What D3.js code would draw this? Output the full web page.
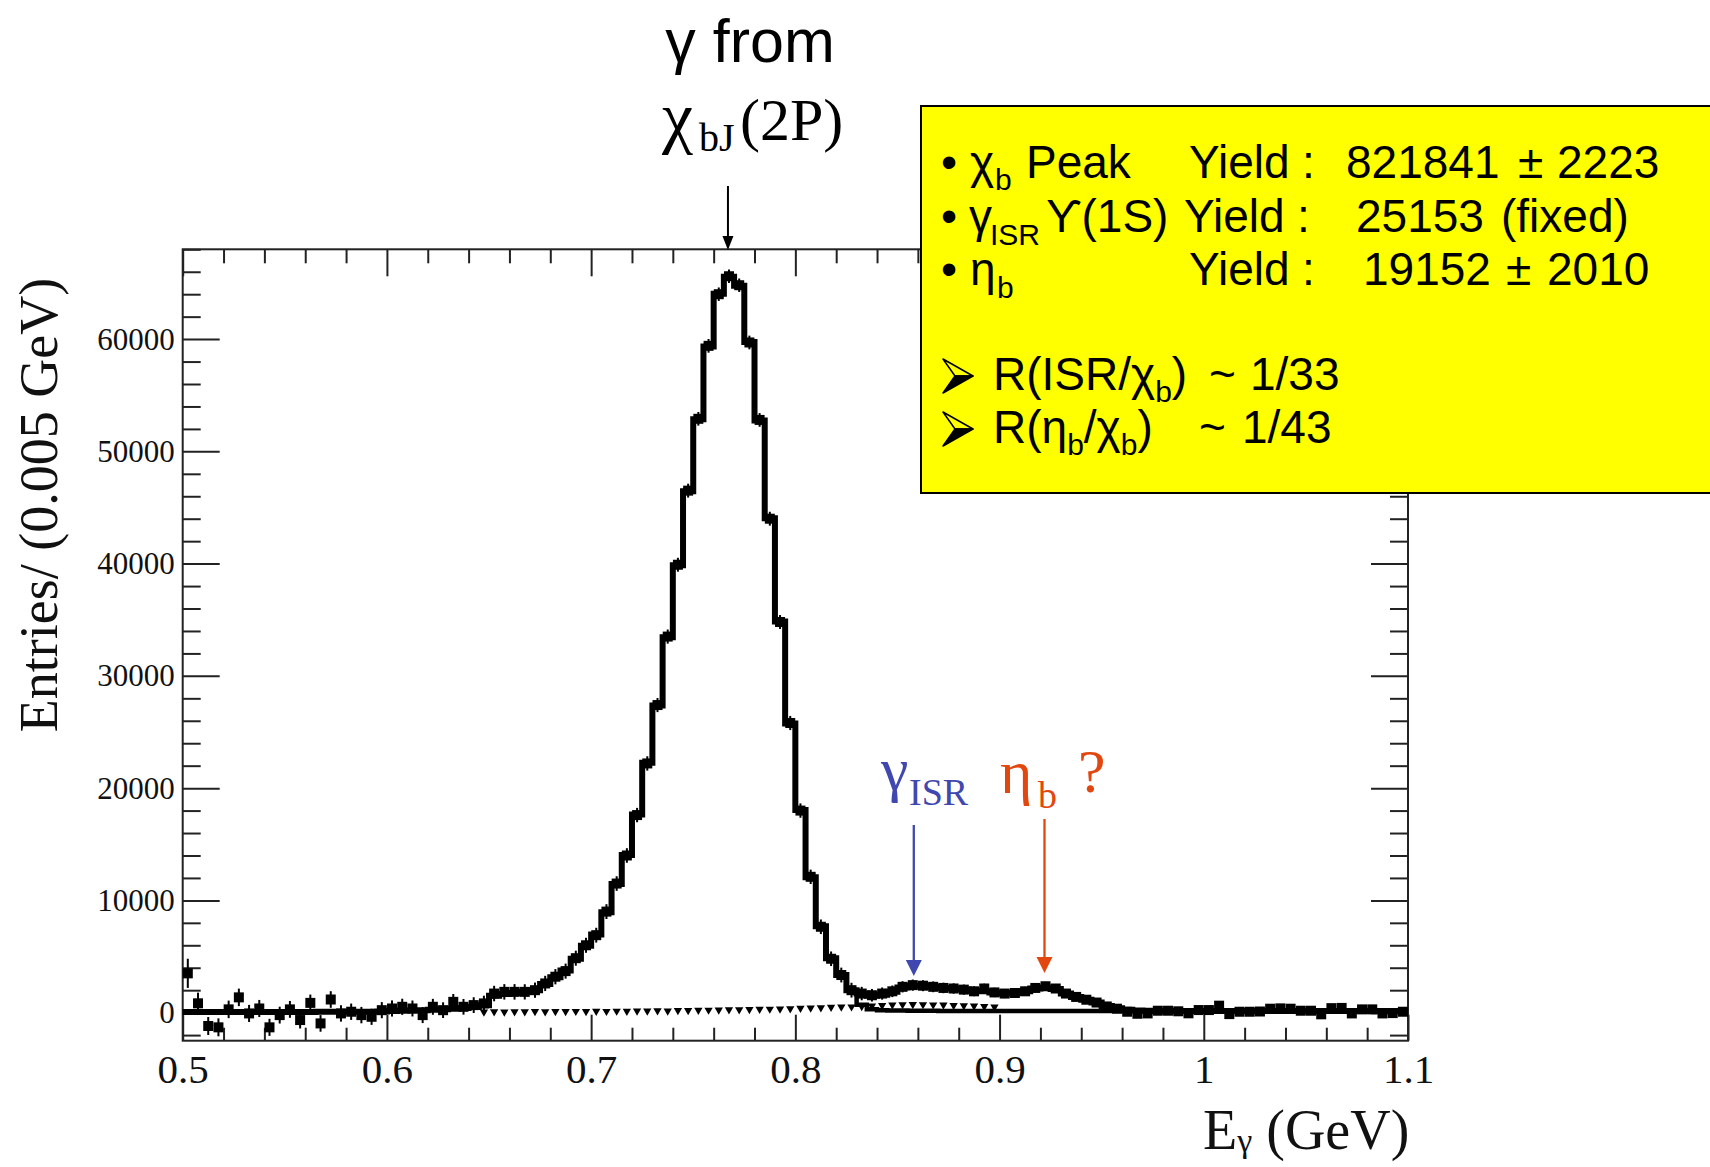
<!DOCTYPE html>
<html>
<head>
<meta charset="utf-8">
<script src="https://cdn.jsdelivr.net/npm/d3@7"></script>
<style>
  html, body { margin: 0; padding: 0; background: #ffffff; }
  svg { display: block; }
</style>
</head>
<body>
<svg id="chart" width="1710" height="1167"></svg>
<script>
// ---------------- data ----------------
// photon-energy histogram: 120 bins of 0.005 GeV starting at 0.5 GeV
const binStart = 0.5;
const binWidth = 0.005;

// measured entries per bin
const dataCounts = [
  3500, 830, -1190, -1310, 290, 1360, -70, 370, -1310, -220,
  290, -660, 870, -960, 1170, -70, 80, -220, -370, 220,
  370, 520, 370, -220, 520, 220, 960, 520, 670, 820,
  1700, 1850, 1850, 1850, 2000, 2600, 3200, 3700, 4850, 6000,
  6900, 9000, 11500, 14000, 17600, 22200, 27400, 33500, 39900, 46500,
  52900, 59400, 64000, 65600, 64800, 59700, 52800, 44000, 34800, 25800,
  18000, 12100, 7650, 4800, 3350, 2000, 1700, 1550, 1700, 1900,
  2300, 2450, 2400, 2300, 2200, 2150, 2050, 1900, 2150, 1800,
  1700, 1750, 1900, 2200, 2350, 2150, 1700, 1400, 1150, 900,
  550, 350, 80, -100, -70, 170, 170, 120, -60, 230,
  230, 620, -130, 80, 80, 100, 350, 380, 350, 170,
  170, -150, 400, 420, -70, 290, 290, -70, -40, 80
];

// statistical error per bin
const dataErrors = [
  1300, 950, 800, 800, 780, 780, 760, 760, 760, 750,
  750, 750, 740, 740, 740, 730, 730, 730, 720, 720,
  720, 720, 710, 710, 710, 700, 700, 700, 700, 690,
  690, 690, 690, 680, 680, 680, 680, 670, 670, 670,
  660, 660, 650, 650, 640, 640, 630, 630, 620, 620,
  610, 610, 600, 600, 600, 610, 610, 620, 620, 630,
  640, 640, 650, 650, 660, 660, 600, 560, 540, 520,
  500, 500, 490, 480, 470, 460, 450, 440, 430, 420,
  410, 400, 400, 400, 400, 390, 380, 370, 360, 350,
  340, 330, 330, 320, 320, 320, 320, 310, 310, 310,
  310, 300, 300, 300, 300, 300, 300, 300, 300, 300,
  300, 300, 300, 300, 300, 300, 300, 300, 300, 300
];

// total fit (chi_b + ISR + eta_b + background), binned
const fitTotal = [
  60, 60, 60, 60, 60, 60, 60, 60, 60, 60,
  60, 60, 60, 70, 70, 70, 80, 80, 90, 100,
  150, 170, 190, 220, 260, 300, 350, 420, 500, 650,
  1500, 1650, 1750, 1850, 2000, 2550, 3150, 3750, 4800, 5950,
  6950, 8950, 11450, 14050, 17650, 22250, 27350, 33450, 39850, 46450,
  52850, 59350, 64050, 65550, 64750, 59750, 52750, 44050, 34850, 25750,
  18050, 12050, 7700, 4850, 3350, 2000, 1700, 1500, 1600, 1850,
  2250, 2400, 2400, 2300, 2200, 2150, 2050, 1950, 1900, 1800,
  1700, 1750, 1900, 2150, 2250, 2100, 1700, 1400, 1150, 900,
  600, 400, 250, 180, 160, 150, 150, 150, 150, 150,
  150, 150, 150, 150, 150, 150, 150, 150, 150, 150,
  150, 150, 150, 150, 150, 150, 150, 150, 150, 150
];

// chi_b tail + background only, from 0.82 GeV
const fitLowerStart = 0.82;
const fitLower = [
  3350, 2000, 700, 300, 220, 200, 180, 170, 160, 160,
  150, 150, 150, 140, 140, 140, 140, 140, 140, 140,
  140, 140, 140, 140, 140, 140, 140, 140, 145, 150,
  150, 150
];

// background points (small triangles), from 0.645 GeV
const bgStart = 0.645;
const bgCounts = [
  60, 80, 70, 90, 80, 100, 90, 110, 100, 120,
  110, 130, 120, 140, 130, 150, 150, 170, 160, 190,
  200, 220, 230, 250, 260, 270, 290, 310, 320, 340,
  360, 400, 420, 450, 480, 500, 520, 550, 600, 650,
  700, 720, 730, 720, 700, 680, 650, 620, 600, 560,
  500
];

const xMajorTicks = [0.5, 0.6, 0.7, 0.8, 0.9, 1.0, 1.1];
const xTickLabels = ["0.5", "0.6", "0.7", "0.8", "0.9", "1", "1.1"];
const yMajorTicks = [0, 10000, 20000, 30000, 40000, 50000, 60000];

// photon energies marked by arrows
const peakArrowE = 0.767;
const isrArrowE = 0.858;
const etabArrowE = 0.922;

// ---------------- layout ----------------
const frame = { left: 182.7, right: 1408, top: 249.3, bottom: 1040.7 };
const serif = "'Liberation Serif', 'Times New Roman', 'DejaVu Serif', serif";
const sans = "'Liberation Sans', Arial, 'DejaVu Sans', sans-serif";
const ink = "#222";

const svg = d3.select("#chart");
svg.append("rect").attr("width", 1710).attr("height", 1167).attr("fill", "#fff");

const x = d3.scaleLinear().domain([0.5, 1.1]).range([frame.left, frame.right]);
const y = d3.scaleLinear().domain([-2500, 68000]).range([frame.bottom, frame.top]);

// ---------------- axes ----------------
const xMinor = d3.range(26, 55, 1).map(k => k * 0.02).filter(v => Math.round(v * 100) % 10 !== 0 && v > 0.5 && v < 1.1);
const yMinor = d3.range(-1, 35, 1).map(k => k * 2000).filter(v => v % 10000 !== 0);

function styleAxis(g) {
  g.select(".domain").remove();
  g.selectAll(".tick line").attr("stroke", ink).attr("stroke-width", 2);
}

// bottom
svg.append("g").attr("transform", `translate(0,${frame.bottom})`)
  .call(d3.axisBottom(x).tickValues(xMinor).tickFormat("").tickSize(-13).tickSizeOuter(0))
  .call(styleAxis);
svg.append("g").attr("transform", `translate(0,${frame.bottom})`)
  .call(d3.axisBottom(x).tickValues(xMajorTicks).tickFormat((d, i) => xTickLabels[i])
    .tickSize(-26).tickSizeOuter(0).tickPadding(13))
  .call(styleAxis)
  .call(g => g.selectAll("text").attr("font-family", serif).attr("font-size", 41).attr("fill", "#111"));

// top
svg.append("g").attr("transform", `translate(0,${frame.top})`)
  .call(d3.axisTop(x).tickValues(xMinor).tickFormat("").tickSize(-14).tickSizeOuter(0))
  .call(styleAxis);
svg.append("g").attr("transform", `translate(0,${frame.top})`)
  .call(d3.axisTop(x).tickValues(xMajorTicks).tickFormat("").tickSize(-27).tickSizeOuter(0))
  .call(styleAxis);

// left
svg.append("g").attr("transform", `translate(${frame.left},0)`)
  .call(d3.axisLeft(y).tickValues(yMinor).tickFormat("").tickSize(-18).tickSizeOuter(0))
  .call(styleAxis);
svg.append("g").attr("transform", `translate(${frame.left},0)`)
  .call(d3.axisLeft(y).tickValues(yMajorTicks).tickFormat(d3.format("d"))
    .tickSize(-37).tickSizeOuter(0).tickPadding(8))
  .call(styleAxis)
  .call(g => g.selectAll("text").attr("font-family", serif).attr("font-size", 31).attr("fill", "#111"));

// right
svg.append("g").attr("transform", `translate(${frame.right},0)`)
  .call(d3.axisRight(y).tickValues(yMinor).tickFormat("").tickSize(-18).tickSizeOuter(0))
  .call(styleAxis);
svg.append("g").attr("transform", `translate(${frame.right},0)`)
  .call(d3.axisRight(y).tickValues(yMajorTicks).tickFormat("").tickSize(-37).tickSizeOuter(0))
  .call(styleAxis);

// frame
svg.append("rect")
  .attr("x", frame.left).attr("y", frame.top)
  .attr("width", frame.right - frame.left).attr("height", frame.bottom - frame.top)
  .attr("fill", "none").attr("stroke", ink).attr("stroke-width", 2);

// axis titles
const xTitle = svg.append("text")
  .attr("x", 1203).attr("y", 1149)
  .attr("font-family", serif).attr("font-size", 56).attr("fill", "#111");
xTitle.append("tspan").text("E");
xTitle.append("tspan").attr("font-size", 34).attr("dy", 3).text("γ");
xTitle.append("tspan").attr("dy", -3).text(" (GeV)");

svg.append("text")
  .attr("transform", "translate(57,505) rotate(-90)")
  .attr("text-anchor", "middle")
  .attr("font-family", serif).attr("font-size", 54).attr("fill", "#111")
  .text("Entries/ (0.005 GeV)");

// ---------------- marks ----------------
const plot = svg.append("g");

// background triangles
const bgPts = bgCounts.map((v, i) => ({ e: bgStart + (i + 0.5) * binWidth, v }));
plot.append("g").selectAll("path").data(bgPts).join("path")
  .attr("d", d3.symbol(d3.symbolTriangle, 30))
  .attr("transform", d => `translate(${x(d.e)},${y(d.v)}) rotate(180)`)
  .attr("fill", "#000");

// stepped fit curves
const stepLine = d3.line().x(d => x(d[0])).y(d => y(d[1])).curve(d3.curveStepAfter);
function stepPoints(start, vals) {
  const pts = vals.map((v, i) => [start + i * binWidth, v]);
  pts.push([start + vals.length * binWidth, vals[vals.length - 1]]);
  return pts;
}
plot.append("path")
  .attr("d", stepLine(stepPoints(fitLowerStart, fitLower)))
  .attr("fill", "none").attr("stroke", "#000").attr("stroke-width", 4.5);

// data error bars and markers
const dataPts = dataCounts.map((v, i) => ({ e: binStart + (i + 0.5) * binWidth, v, err: dataErrors[i] }));
plot.append("g").selectAll("line").data(dataPts).join("line")
  .attr("x1", d => x(d.e)).attr("x2", d => x(d.e))
  .attr("y1", d => y(d.v - d.err)).attr("y2", d => y(d.v + d.err))
  .attr("stroke", "#000").attr("stroke-width", 2);
plot.append("g").selectAll("rect").data(dataPts).join("rect")
  .attr("x", d => x(d.e) - 5).attr("y", d => y(d.v) - 5)
  .attr("width", 10).attr("height", 10)
  .attr("fill", "#000");

plot.append("path")
  .attr("d", stepLine(stepPoints(binStart, fitTotal)))
  .attr("fill", "none").attr("stroke", "#000").attr("stroke-width", 6);

// ---------------- annotations ----------------
function arrow(e, yFrom, yTip, color, width, headW, headH) {
  const cx = x(e);
  svg.append("line")
    .attr("x1", cx).attr("x2", cx).attr("y1", yFrom).attr("y2", yTip - headH + 1)
    .attr("stroke", color).attr("stroke-width", width);
  svg.append("path")
    .attr("d", `M${cx - headW / 2},${yTip - headH} L${cx + headW / 2},${yTip - headH} L${cx},${yTip} Z`)
    .attr("fill", color);
}

// chi_bJ(2P) peak label
svg.append("text")
  .attr("x", 750).attr("y", 62).attr("text-anchor", "middle")
  .attr("font-family", sans).attr("font-size", 61).attr("fill", "#000")
  .text("γ from");
const chiLabel = svg.append("text").attr("font-family", serif).attr("fill", "#000");
chiLabel.append("tspan").attr("x", 662).attr("y", 140).attr("font-size", 70).text("χ");
chiLabel.append("tspan").attr("x", 699).attr("y", 151).attr("font-size", 40).text("bJ");
chiLabel.append("tspan").attr("x", 740).attr("y", 140).attr("font-size", 60).text("(2P)");
arrow(peakArrowE, 186, 250, "#000", 2, 11, 14);

// ISR label and arrow
const isrColor = "#4048b0";
const isrLabel = svg.append("text").attr("font-family", serif).attr("fill", isrColor);
isrLabel.append("tspan").attr("x", 881).attr("y", 790).attr("font-size", 62).text("γ");
isrLabel.append("tspan").attr("x", 909).attr("y", 805).attr("font-size", 38).text("ISR");
arrow(isrArrowE, 825, 976, isrColor, 2.3, 16, 16);

// eta_b label and arrow
const etaColor = "#e2470f";
const etaLabel = svg.append("text").attr("font-family", serif).attr("fill", etaColor);
etaLabel.append("tspan").attr("x", 1000).attr("y", 793).attr("font-size", 62).text("η");
etaLabel.append("tspan").attr("x", 1038).attr("y", 808).attr("font-size", 38).text("b");
etaLabel.append("tspan").attr("x", 1078).attr("y", 792).attr("font-size", 62).text("?");
arrow(etabArrowE, 819, 973, etaColor, 2.3, 16, 16);

// ---------------- yield summary box ----------------
svg.append("rect")
  .attr("x", 921).attr("y", 106).attr("width", 820).attr("height", 387)
  .attr("fill", "#ffff00").attr("stroke", "#000").attr("stroke-width", 2);

const box = svg.append("g").attr("font-family", sans).attr("font-size", 46).attr("fill", "#000");
function put(xp, yp, str, size) {
  const t = box.append("text").attr("x", xp).attr("y", yp).text(str);
  if (size) t.attr("font-size", size);
  return t;
}

// row 1
put(941, 178, "•");
put(970, 178, "χ");
put(995, 190, "b", 30);
put(1026, 178, "Peak");
put(1189, 178, "Yield");
put(1302, 178, ":");
put(1346, 178, "821841");
put(1518, 178, "±");
put(1557, 178, "2223");
// row 2
put(941, 232, "•");
put(969, 232, "γ");
put(990, 245, "ISR", 30);
put(1046, 232, "ϒ(1S)");
put(1184, 232, "Yield");
put(1297, 232, ":");
put(1356, 232, "25153");
put(1501, 232, "(fixed)");
// row 3
put(941, 285, "•");
put(970, 285, "η");
put(997, 298, "b", 30);
put(1189, 285, "Yield");
put(1302, 285, ":");
put(1363, 285, "19152");
put(1506, 285, "±");
put(1547, 285, "2010");

// 3-D arrowhead bullet used for the ratio rows
function arrowBullet(yp) {
  const tipY = yp - 14, topY = yp - 31, botY = yp + 3;
  box.append("path")
    .attr("d", `M943,${topY} L973,${tipY} L955,${tipY} Z`)
    .attr("fill", "#ffff00").attr("stroke", "#000").attr("stroke-width", 1.5)
    .attr("stroke-linejoin", "round");
  box.append("path")
    .attr("d", `M943,${botY} L973,${tipY} L955,${tipY} Z`)
    .attr("fill", "#000").attr("stroke", "#000").attr("stroke-width", 1.5)
    .attr("stroke-linejoin", "round");
}

// ratio rows: text pieces, subscripts lowered by 12 px
function ratioRow(yp, parts, tildeX, valueX, value) {
  arrowBullet(yp);
  const t = box.append("text").attr("x", 993).attr("y", yp);
  let shift = 0;
  parts.forEach(p => {
    const target = p.sub ? 12 : 0;
    t.append("tspan")
      .attr("font-size", p.sub ? 30 : 46)
      .attr("dy", target - shift)
      .text(p.s);
    shift = target;
  });
  put(tildeX, yp, "~");
  put(valueX, yp, value);
}
ratioRow(390, [{ s: "R(ISR/χ" }, { s: "b", sub: true }, { s: ")" }], 1209, 1250, "1/33");
ratioRow(443, [{ s: "R(η" }, { s: "b", sub: true }, { s: "/χ" }, { s: "b", sub: true }, { s: ")" }], 1199, 1242, "1/43");
</script>
</body>
</html>
